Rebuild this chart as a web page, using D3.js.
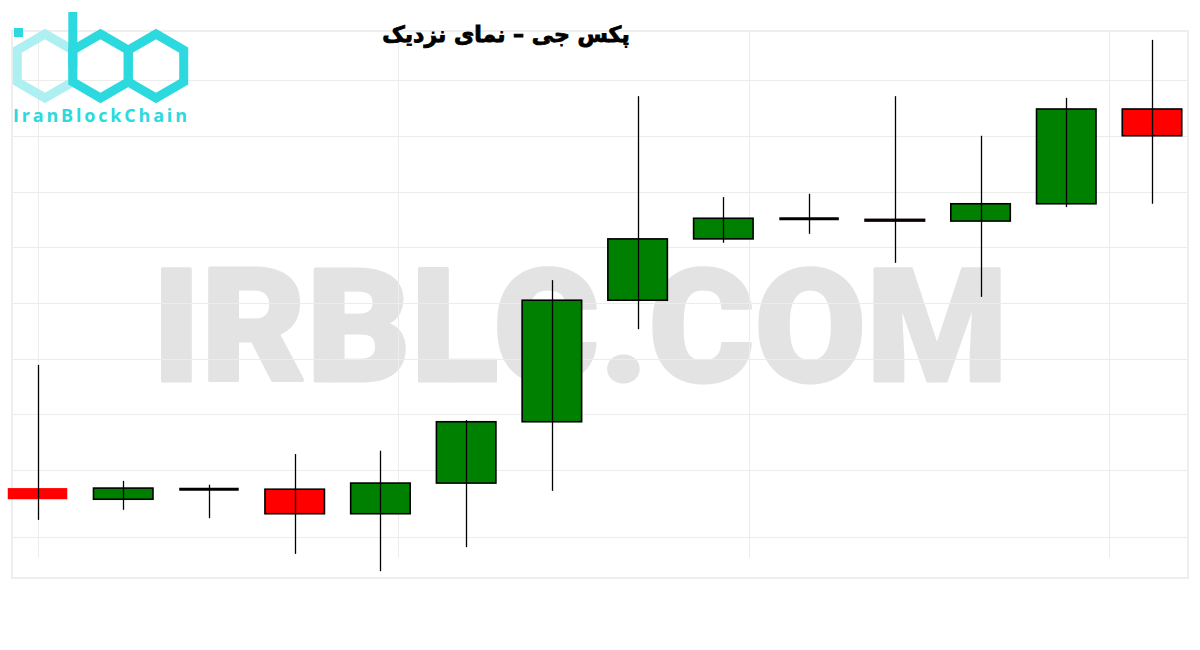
<!DOCTYPE html>
<html>
<head>
<meta charset="utf-8">
<script src="https://cdn.jsdelivr.net/npm/d3@7"></script>
<style>
  body { margin: 0; background: #fff; }
  svg { display: block; }
</style>
</head>
<body>
<svg id="chart"></svg>
<script>
// candle data (PAXG, close view)
const days = ['1', '2', '3', '4', '5', '6', '7', '8', '9', '10', '11', '12', '13', '14'];
const opens = [1716.8, 1714.8, 1716.6, 1716.6, 1712.2, 1717.7, 1728.7, 1750.5, 1761.5, 1765.1, 1765.0, 1764.7, 1767.8, 1784.8];
const highs = [1738.9, 1718.1, 1717.4, 1722.9, 1723.5, 1729.0, 1754.1, 1787.1, 1769.0, 1769.6, 1787.1, 1780.0, 1786.8, 1797.2];
const lows = [1711.1, 1712.9, 1711.4, 1705.0, 1701.9, 1706.2, 1716.3, 1745.3, 1760.8, 1762.4, 1757.2, 1751.1, 1767.2, 1767.8];
const closes = [1714.8, 1716.8, 1716.6, 1712.2, 1717.7, 1728.7, 1750.5, 1761.5, 1765.2, 1765.1, 1764.7, 1767.8, 1784.8, 1780.0];
const yTicks = [1708, 1720, 1730, 1740, 1750, 1760, 1770, 1780, 1790];
const xTicks = [0, 4.2, 8.3, 12.5];
const title = 'پکس جی – نمای نزدیک';

const width = 1200;
const height = 650;
const frame = { left: 12, top: 31, right: 1188, bottom: 578 };
const bodyW = 59.5;

const svg = d3.select('#chart')
    .attr('width', width)
    .attr('height', height);

svg.append('rect')
    .attr('width', width)
    .attr('height', height)
    .attr('fill', '#fff');

const x = d3.scaleLinear()
    .domain([0, days.length - 1])
    .range([37.5, 1152]);

const y = d3.scaleLinear()
    .domain([1700, 1800])
    .range([581.75, 24.25]);

const data = days.map((d, i) => ({
  day: d, i, open: opens[i], high: highs[i], low: lows[i], close: closes[i],
}));

// watermark
svg.append('text')
    .attr('x', 152)
    .attr('y', 381)
    .attr('textLength', 856)
    .attr('lengthAdjust', 'spacingAndGlyphs')
    .style('font-family', 'Roboto, sans-serif')
    .style('font-weight', 900)
    .style('font-size', '158px')
    .attr('fill', '#e3e3e3')
    .attr('stroke', '#e3e3e3')
    .attr('stroke-width', 3)
    .attr('stroke-linejoin', 'round')
    .text('IRBLC.COM');

// grid
const grid = svg.append('g')
    .attr('stroke', '#ececec')
    .attr('stroke-width', 1);

grid.selectAll('.hline')
    .data(yTicks)
  .enter().append('line')
    .attr('x1', frame.left)
    .attr('x2', frame.right)
    .attr('y1', d => Math.round(y(d)) + 0.5)
    .attr('y2', d => Math.round(y(d)) + 0.5);

grid.selectAll('.vline')
    .data(xTicks)
  .enter().append('line')
    .attr('x1', d => Math.round(x(d)) + 0.5)
    .attr('x2', d => Math.round(x(d)) + 0.5)
    .attr('y1', frame.top)
    .attr('y2', frame.bottom - 20);

svg.append('rect')
    .attr('x', frame.left)
    .attr('y', frame.top)
    .attr('width', frame.right - frame.left)
    .attr('height', frame.bottom - frame.top)
    .attr('fill', 'none')
    .attr('stroke', '#eeeeee')
    .attr('stroke-width', 2);

// candles
const candles = svg.append('g');

const bodies = data.filter(d => d.open !== d.close);
const dojis = data.filter(d => d.open === d.close);

candles.selectAll('.body')
    .data(bodies)
  .enter().append('rect')
    .attr('class', 'body')
    .attr('x', d => x(d.i) - bodyW / 2)
    .attr('y', d => y(Math.max(d.open, d.close)))
    .attr('width', bodyW)
    .attr('height', d => Math.abs(y(d.open) - y(d.close)))
    .attr('fill', d => (d.close > d.open ? '#008000' : '#ff0000'))
    .attr('stroke', d => (d.i === 0 ? 'none' : '#000'))
    .attr('stroke-width', 1.6);

candles.selectAll('.doji')
    .data(dojis)
  .enter().append('line')
    .attr('x1', d => x(d.i) - bodyW / 2)
    .attr('x2', d => x(d.i) + bodyW / 2)
    .attr('y1', d => y(d.open))
    .attr('y2', d => y(d.open))
    .attr('stroke', '#000')
    .attr('stroke-width', 3);

candles.selectAll('.wick')
    .data(data)
  .enter().append('line')
    .attr('x1', d => Math.round(x(d.i)) + 0.5)
    .attr('x2', d => Math.round(x(d.i)) + 0.5)
    .attr('y1', d => y(d.high))
    .attr('y2', d => y(d.low))
    .attr('stroke', '#000')
    .attr('stroke-width', 1.3);

// title
svg.append('text')
    .attr('x', 506)
    .attr('y', 42)
    .attr('text-anchor', 'middle')
    .attr('direction', 'rtl')
    .style('font-family', '"DejaVu Sans", sans-serif')
    .style('font-weight', 'bold')
    .style('font-size', '22px')
    .attr('fill', '#000')
    .attr('stroke', '#000')
    .attr('stroke-width', 0.9)
    .text(title);

// logo
const logo = svg.append('g');
const hexR = 32;
const hex = (cx, cy) => d3.range(6).map(k => {
  const a = (Math.PI / 180) * (60 * k - 90);
  return [cx + hexR * Math.cos(a), cy + hexR * Math.sin(a)];
});
const line = d3.line().curve(d3.curveLinearClosed);

logo.append('path')
    .attr('d', line(hex(45, 66)))
    .attr('fill', 'none')
    .attr('stroke', '#aeeff1')
    .attr('stroke-width', 9);

logo.append('path')
    .attr('d', line(hex(100.5, 66)))
    .attr('fill', 'none')
    .attr('stroke', '#2bd9de')
    .attr('stroke-width', 9);

logo.append('path')
    .attr('d', line(hex(156, 66)))
    .attr('fill', 'none')
    .attr('stroke', '#2bd9de')
    .attr('stroke-width', 9);

logo.append('rect')
    .attr('x', 68.3)
    .attr('y', 12)
    .attr('width', 9)
    .attr('height', 56)
    .attr('fill', '#2bd9de');

logo.append('rect')
    .attr('x', 14)
    .attr('y', 28)
    .attr('width', 9)
    .attr('height', 9)
    .attr('fill', '#2bd9de');

logo.append('text')
    .attr('x', 13)
    .attr('y', 122)
    .attr('textLength', 174)
    .attr('lengthAdjust', 'spacing')
    .style('font-family', '"Open Sans", sans-serif')
    .style('font-weight', 'bold')
    .style('font-size', '18px')
    .attr('fill', '#2bd9de')
    .text('IranBlockChain');
</script>
</body>
</html>
